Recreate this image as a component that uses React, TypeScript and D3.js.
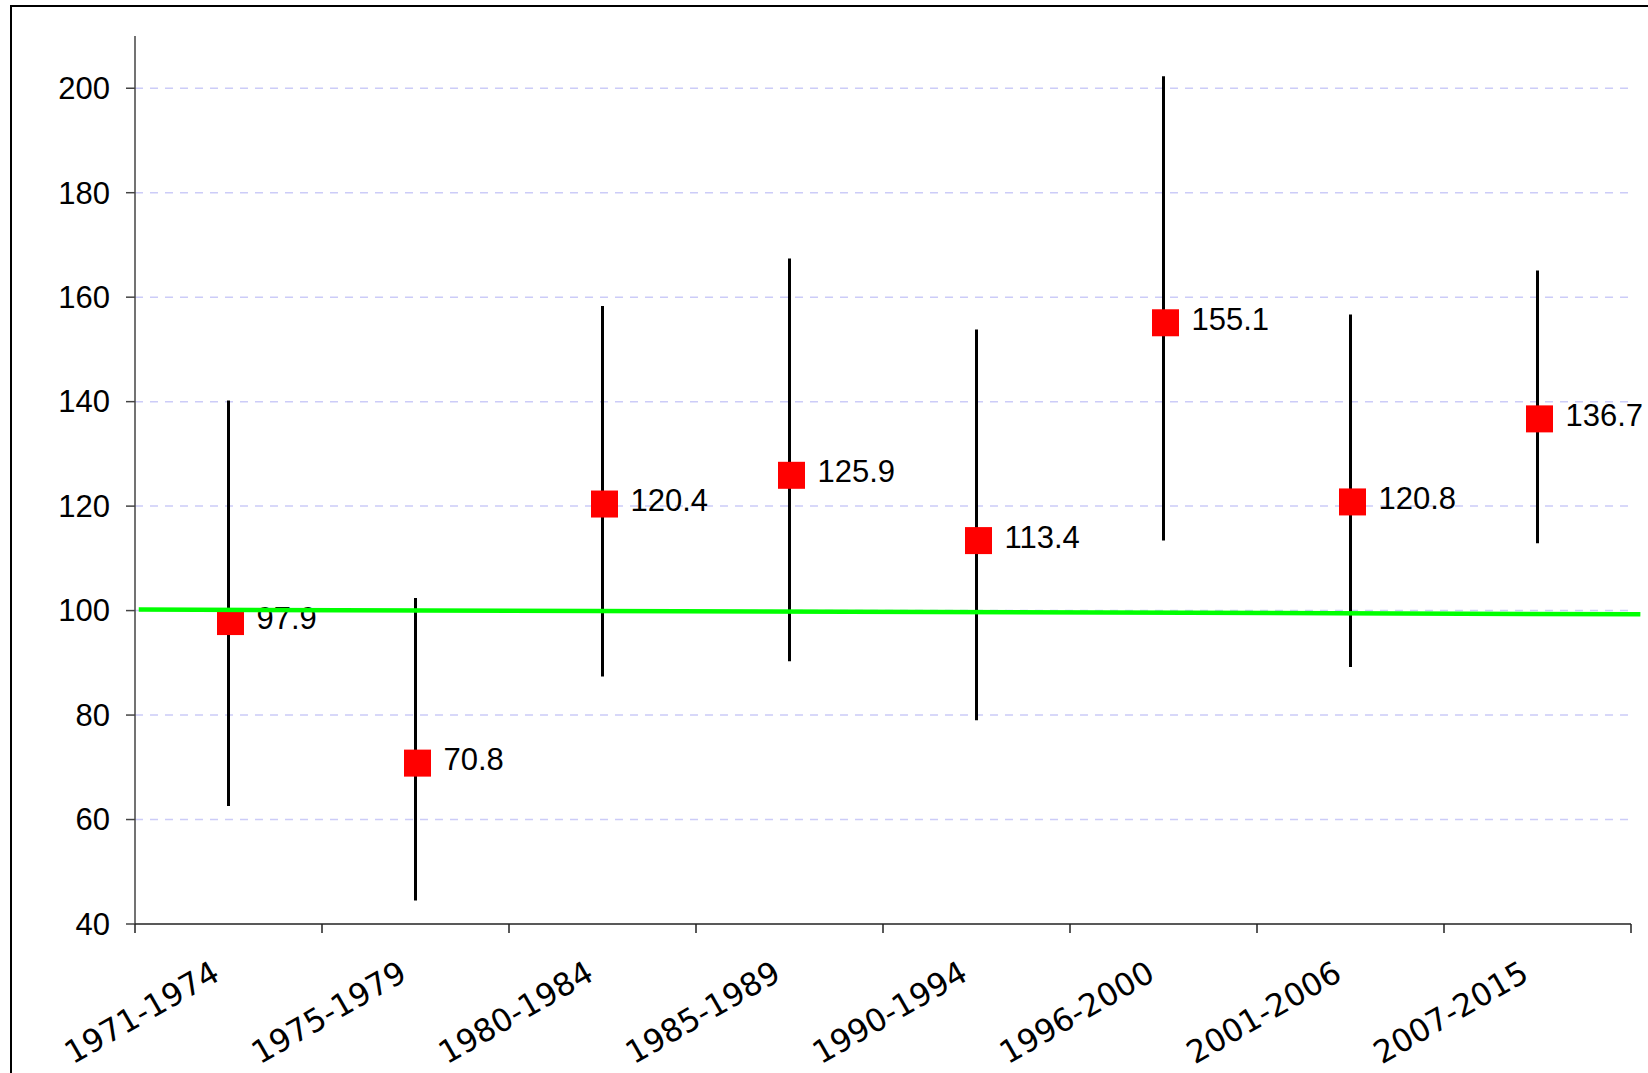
import React from "react";
import * as d3 from "d3";

const categories = ["1971-1974", "1975-1979", "1980-1984", "1985-1989", "1990-1994", "1996-2000", "2001-2006", "2007-2015"];
const values = [97.9, 70.8, 120.4, 125.9, 113.4, 155.1, 120.8, 136.7];
const upper = [140.2, 102.4, 158.3, 167.4, 153.8, 202.3, 156.7, 165.1];
const lower = [62.6, 44.5, 87.4, 90.3, 79.0, 113.4, 89.2, 112.9];
const yTicks = [40, 60, 80, 100, 120, 140, 160, 180, 200];
// reference (trend) line: [category-position, value]
const trendLine: [number, number][] = [[0.02, 100.2], [8.05, 99.3]];

const W = 1648;
const H = 1073;
const left = 135;
const right = 1631;
const top = 36;
const bottom = 924;

export default function App() {
  const x = d3.scaleBand<string>().domain(categories).range([left, right]).padding(0);
  const xLin = d3.scaleLinear().domain([0, categories.length]).range([left, right]);
  const y = d3.scaleLinear().domain([40, 210]).range([bottom, top]);
  const cx = (c: string) => (x(c) as number) + x.bandwidth() / 2;
  const line = d3.line<[number, number]>().x((d) => xLin(d[0])).y((d) => y(d[1]));
  const boundaries = d3.range(categories.length + 1).map((i) => xLin(i));
  const ms = 27;

  return (
    <svg width={W} height={H} style={{ position: "absolute", left: 0, top: 0, background: "#fff" }}>
      <rect x={11} y={6} width={W + 20} height={H + 20} fill="#fff" stroke="#000" strokeWidth={2} />
      {/* gridlines */}
      {yTicks.filter((t) => t > 40).map((t) => (
        <line key={"g" + t} x1={left} x2={right} y1={y(t)} y2={y(t)} stroke="#ccccf8" strokeWidth={1.5} strokeDasharray="8,7" />
      ))}
      {/* y axis */}
      <line x1={left} x2={left} y1={top} y2={bottom} stroke="#444" strokeWidth={1.5} />
      {yTicks.map((t) => (
        <g key={"yt" + t}>
          <line x1={left - 9} x2={left} y1={y(t)} y2={y(t)} stroke="#444" strokeWidth={1.5} />
          <text x={110} y={y(t)} dy="0.35em" textAnchor="end" fontFamily="'Liberation Sans', Arial, sans-serif" fontSize={31} fill="#000">
            {t}
          </text>
        </g>
      ))}
      {/* x axis */}
      <line x1={left} x2={right} y1={bottom} y2={bottom} stroke="#222" strokeWidth={1.5} />
      {boundaries.map((b, i) => (
        <line key={"xt" + i} x1={b} x2={b} y1={bottom} y2={bottom + 9} stroke="#222" strokeWidth={1.5} />
      ))}
      {categories.map((c) => (
        <text
          key={"xl" + c}
          transform={`translate(${cx(c) - 7},${bottom + 55}) rotate(-30)`}
          textAnchor="end"
          fontFamily="'DejaVu Sans', Verdana, sans-serif"
          fontSize={31.5}
          fill="#000"
        >
          {c}
        </text>
      ))}
      {/* error bars */}
      {categories.map((c, i) => (
        <line key={"eb" + c} x1={cx(c)} x2={cx(c)} y1={y(upper[i])} y2={y(lower[i])} stroke="#000" strokeWidth={3} />
      ))}
      {/* markers */}
      {categories.map((c, i) => (
        <rect key={"m" + c} x={cx(c) + 2 - ms / 2} y={y(values[i]) - ms / 2} width={ms} height={ms} fill="#ff0000" />
      ))}
      {/* value labels */}
      {categories.map((c, i) => (
        <text
          key={"vl" + c}
          x={cx(c) + 28}
          y={y(values[i]) + 7}
          fontFamily="'Liberation Sans', Arial, sans-serif"
          fontSize={31}
          fill="#000"
        >
          {values[i].toFixed(1)}
        </text>
      ))}
      {/* trend line */}
      <path d={line(trendLine) || ""} fill="none" stroke="#00ff00" strokeWidth={4.5} />
    </svg>
  );
}
